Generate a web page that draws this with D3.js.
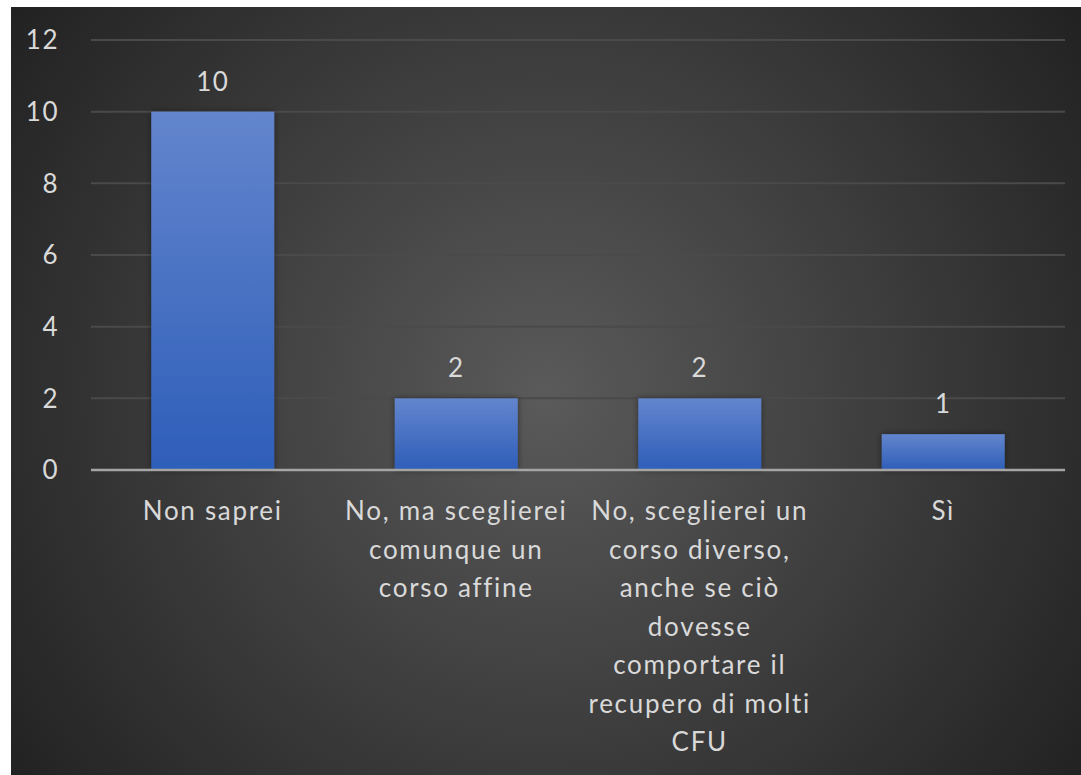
<!DOCTYPE html>
<html>
<head>
<meta charset="utf-8">
<script src="https://cdn.jsdelivr.net/npm/d3@7"></script>
<style>
  body { margin: 0; background: #fff; }
  svg text { font-family: Lato, "Open Sans", sans-serif; fill: #d9d9d9; }
</style>
</head>
<body>
<svg width="1081" height="775"></svg>
<script>
const categories = [
  "Non saprei",
  "No, ma sceglierei comunque un corso affine",
  "No, sceglierei un corso diverso, anche se ciò dovesse comportare il recupero di molti CFU",
  "Sì"
];
const values = [10, 2, 2, 1];
const yTicks = [0, 2, 4, 6, 8, 10, 12];

const svg = d3.select("svg");
const width = +svg.attr("width");
const height = +svg.attr("height");

const margin = {top: 40, right: 16, bottom: 305, left: 91};

const defs = svg.append("defs");

const bg = defs.append("radialGradient")
    .attr("id", "bg")
    .attr("gradientUnits", "userSpaceOnUse")
    .attr("cx", 546).attr("cy", 395).attr("r", 680);
bg.append("stop").attr("offset", "0%").attr("stop-color", "#5a5a5a");
bg.append("stop").attr("offset", "100%").attr("stop-color", "#202020");

const barGrad = defs.append("linearGradient")
    .attr("id", "barGrad")
    .attr("x1", 0).attr("y1", 0).attr("x2", 0).attr("y2", 1);
barGrad.append("stop").attr("offset", "0%").attr("stop-color", "#6385cd");
barGrad.append("stop").attr("offset", "100%").attr("stop-color", "#2e5eb9");

const shadow = defs.append("filter").attr("id", "shadow")
    .attr("x", "-20%").attr("y", "-20%").attr("width", "140%").attr("height", "140%");
shadow.append("feDropShadow")
    .attr("dx", 0).attr("dy", 0).attr("stdDeviation", 3)
    .attr("flood-color", "#000").attr("flood-opacity", 0.45);

// chart area background
svg.append("rect")
    .attr("x", 11).attr("y", 7)
    .attr("width", width - 11).attr("height", height - 7)
    .attr("fill", "url(#bg)");

const x = d3.scaleBand()
    .domain(categories)
    .range([margin.left, width - margin.right])
    .paddingInner(0.495)
    .paddingOuter(0.2475);

const y = d3.scaleLinear()
    .domain([0, 12])
    .range([height - margin.bottom, margin.top]);

// gridlines
svg.append("g")
    .selectAll("line")
    .data(yTicks.filter(d => d > 0))
    .join("line")
        .attr("x1", margin.left)
        .attr("x2", width - margin.right)
        .attr("y1", d => y(d))
        .attr("y2", d => y(d))
        .attr("stroke", "#4a4a4a")
        .attr("stroke-width", 2);

// y labels
const yAxis = d3.axisLeft(y)
    .tickValues(yTicks)
    .tickSize(0)
    .tickPadding(32);

const gy = svg.append("g")
    .attr("transform", `translate(${margin.left},0)`)
    .call(yAxis);
gy.select(".domain").remove();
gy.selectAll("text")
    .attr("fill", null)
    .style("font-size", "26px")
    .style("letter-spacing", "1.5px")
    .attr("dy", "0.34em");

// bars
svg.append("g")
    .selectAll("rect")
    .data(values)
    .join("rect")
        .attr("x", (d, i) => x(categories[i]))
        .attr("y", d => y(d))
        .attr("width", x.bandwidth())
        .attr("height", d => y(0) - y(d))
        .attr("fill", "url(#barGrad)")
        .attr("filter", "url(#shadow)");

// baseline
svg.append("line")
    .attr("x1", margin.left)
    .attr("x2", width - margin.right)
    .attr("y1", y(0))
    .attr("y2", y(0))
    .attr("stroke", "#a5a5a5")
    .attr("stroke-width", 2.5);

// data labels
svg.append("g")
    .selectAll("text")
    .data(values)
    .join("text")
        .attr("x", (d, i) => x(categories[i]) + x.bandwidth() / 2)
        .attr("y", d => y(d) - 21)
        .attr("text-anchor", "middle")
        .style("font-size", "26px")
        .style("letter-spacing", "1.5px")
        .text(d => d);

// category labels, wrapped
const maxWidth = 232;
const catG = svg.append("g");
categories.forEach(cat => {
    const t = catG.append("text")
        .attr("text-anchor", "middle")
        .style("font-size", "26px")
        .style("letter-spacing", "1.7px");
    const cx = x(cat) + x.bandwidth() / 2;
    const words = cat.split(" ");
    let lines = [];
    let line = [];
    const probe = t.append("tspan");
    words.forEach(w => {
        const test = line.concat([w]).join(" ");
        probe.text(test);
        if (probe.node().getComputedTextLength() > maxWidth && line.length) {
            lines.push(line.join(" "));
            line = [w];
        } else {
            line.push(w);
        }
    });
    lines.push(line.join(" "));
    probe.remove();
    lines.forEach((l, i) => {
        t.append("tspan")
            .attr("x", cx)
            .attr("y", 520 + i * 38.5)
            .text(l);
    });
});
</script>
</body>
</html>
